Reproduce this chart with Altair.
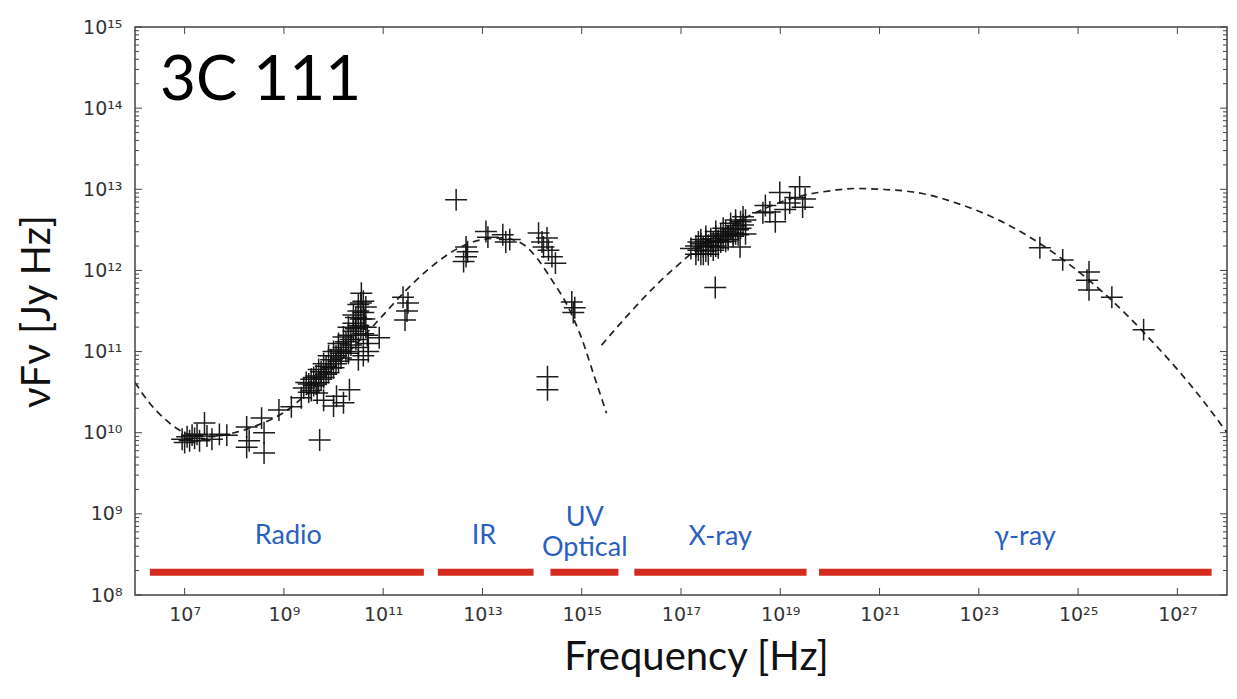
import altair as alt
import pandas as pd

# ---------------- data (log10 values) ----------------
# measured SED points: log10(frequency / Hz), log10(nuFnu / Jy Hz)
pts_lx = [
    # radio, low-frequency cluster
    6.95, 7.0, 7.05, 7.1, 7.15, 7.2, 7.25, 7.3, 7.4, 7.45, 7.55, 7.7, 7.85,
    # radio, rising part
    8.25, 8.25, 8.3, 8.55, 8.6, 8.6, 8.9, 9.15, 9.35, 9.72,
    # radio, dense block
    9.4, 9.45, 9.5, 9.55, 9.6, 9.65, 9.7, 9.75, 9.8, 9.85, 9.9, 9.95, 10.0, 10.05,
    10.1, 10.1, 10.15, 10.2, 10.25, 10.3, 10.3, 10.35, 10.4, 10.45, 10.5, 10.5,
    10.55, 10.6, 10.6, 10.65, 10.55, 10.5, 10.45, 10.65, 10.7, 10.56, 10.4,
    9.5, 9.55, 9.6, 9.65, 9.7, 9.75, 9.8, 9.85, 9.9, 9.95, 10.0, 10.05, 10.1, 10.15,
    10.2, 10.25, 10.3, 10.35, 10.4, 10.45, 10.5, 10.55, 10.6, 10.62, 10.68, 10.7, 10.6, 10.5,
    9.67, 9.8, 10.06, 10.2, 10.32, 10.0,
    10.92, 11.4, 11.5, 11.44, 11.48,
    # infrared
    12.47, 12.67, 12.7, 12.67, 12.62, 13.07, 13.11, 13.41, 13.47, 13.55,
    # optical / UV
    14.13, 14.2, 14.23, 14.3, 14.33, 14.4, 14.47, 14.8, 14.86, 14.83, 14.31, 14.31,
    # X-ray
    17.2, 17.3, 17.35, 17.4, 17.45, 17.5, 17.55, 17.6, 17.65, 17.7, 17.75, 17.8,
    17.85, 17.9, 17.95, 18.0, 18.05, 18.1, 18.15, 18.2, 18.25, 17.5, 17.7, 17.9,
    18.1, 17.4,
    17.3, 17.4, 17.5, 17.6, 17.7, 17.8, 17.85, 17.95, 18.0, 18.05, 18.1, 18.15,
    18.2, 17.55, 17.65, 17.75, 18.25, 17.35, 17.45, 18.3,
    17.69, 18.19, 18.3,
    18.65, 18.79, 18.9, 18.99, 19.19, 19.39, 19.45, 19.3, 19.1, 18.7, 19.5,
    # gamma-ray
    24.23, 24.69, 25.18, 25.22, 25.22, 25.68, 26.32,
]
pts_ly = [
    9.92, 9.88, 9.95, 9.9, 9.97, 9.93, 9.98, 9.9, 10.12, 9.96, 9.92, 9.98, 9.97,
    10.07, 9.82, 9.9, 10.18, 10.0, 9.75, 10.28, 10.32, 10.43, 9.91,
    10.55, 10.62, 10.5, 10.66, 10.58, 10.7, 10.62, 10.75, 10.68, 10.82, 10.74, 10.9, 10.8, 10.95,
    10.88, 11.02, 10.92, 11.05, 11.12, 10.98, 11.2, 11.08, 11.25, 11.15, 11.32, 11.05,
    11.4, 11.48, 11.22, 11.55, 11.6, 11.5, 11.42, 11.3, 11.1, 11.72, 11.35,
    10.6, 10.52, 10.68, 10.6, 10.78, 10.66, 10.85, 10.72, 10.95, 10.8, 11.0, 10.85, 11.1, 10.98,
    11.18, 11.0, 11.3, 11.15, 11.45, 11.28, 11.58, 11.3, 11.62, 11.4, 11.2, 11.0, 10.95, 10.9,
    10.49, 10.4, 10.45, 10.37, 10.53, 10.33,
    11.17, 11.67, 11.6, 11.39, 11.5,
    12.87, 12.29, 12.23, 12.17, 12.11, 12.48, 12.41, 12.44, 12.35, 12.38,
    12.46, 12.35, 12.29, 12.4, 12.25, 12.17, 12.09, 11.61, 11.54, 11.48, 10.69, 10.53,
    12.27, 12.3, 12.25, 12.33, 12.29, 12.36, 12.31, 12.39, 12.34, 12.42, 12.37, 12.45,
    12.4, 12.48, 12.43, 12.51, 12.46, 12.55, 12.5, 12.6, 12.66, 12.24, 12.3, 12.36,
    12.45, 12.2,
    12.2, 12.38, 12.42, 12.3, 12.48, 12.35, 12.52, 12.38, 12.58, 12.42, 12.62, 12.44,
    12.52, 12.2, 12.25, 12.28, 12.56, 12.35, 12.2, 12.62,
    11.79, 12.29, 12.45,
    12.71, 12.72, 12.6, 12.96, 12.83, 13.03, 12.78, 12.9, 12.75, 12.8, 12.88,
    12.28, 12.13, 11.88, 11.98, 11.76, 11.67, 11.27,
]

# dashed model curves (synchrotron and inverse-Compton components)
sync_lx = [6.0, 6.3, 6.6, 6.9, 7.2, 7.5, 8.0, 8.5, 9.0, 9.5, 10.0, 10.5, 11.0,
           11.5, 12.0, 12.5, 13.0, 13.4, 13.8, 14.1, 14.4, 14.7, 15.0, 15.25, 15.5]
sync_ly = [10.62, 10.36, 10.17, 10.03, 9.96, 9.95, 10.0, 10.1, 10.25, 10.5, 10.8, 11.12, 11.45,
           11.78, 12.06, 12.27, 12.38, 12.4, 12.33, 12.15, 11.88, 11.58, 11.16, 10.7, 10.24]
ic_lx = [15.4, 15.9, 16.5, 17.0, 17.5, 18.0, 18.5, 19.0, 19.5, 20.0, 20.5, 21.0, 21.5,
         22.0, 22.5, 23.0, 23.5, 24.0, 24.5, 25.0, 25.5, 26.0, 26.5, 27.0, 27.5, 28.0]
ic_ly = [11.08, 11.43, 11.82, 12.1, 12.35, 12.55, 12.71, 12.84, 12.93, 12.98, 13.01, 13.0, 12.98,
         12.93, 12.84, 12.73, 12.59, 12.42, 12.22, 11.99, 11.73, 11.44, 11.12, 10.78, 10.41, 10.0]

# spectral bands (red bars and blue labels)
band_names = ["Radio", "IR", "UV\nOptical", "X-ray", "γ-ray"]
band_lo = [6.3, 12.1, 14.37, 16.06, 19.78]
band_hi = [11.82, 14.03, 15.74, 19.53, 27.69]
band_label_lx = [9.09, 13.03, 15.06, 17.79, 23.93]
band_label_ly = [8.73, 8.73, 8.95, 8.72, 8.72]
band_bar_ly = 8.28

x_tick_exp = [7, 9, 11, 13, 15, 17, 19, 21, 23, 25, 27]
y_tick_exp = [8, 9, 10, 11, 12, 13, 14, 15]
y_minor = [2, 3, 4, 5, 6, 7, 8, 9]

title_text = "3C 111"

# ---------------- tables ----------------
pts = pd.DataFrame({"nu": [10 ** v for v in pts_lx], "flux": [10 ** v for v in pts_ly]})
curves = pd.concat([
    pd.DataFrame({"nu": [10 ** v for v in sync_lx], "flux": [10 ** v for v in sync_ly], "seg": "sync"}),
    pd.DataFrame({"nu": [10 ** v for v in ic_lx], "flux": [10 ** v for v in ic_ly], "seg": "ic"}),
])
bars = pd.DataFrame({"nu": [10 ** v for v in band_lo], "nu2": [10 ** v for v in band_hi],
                     "flux": [10 ** band_bar_ly] * len(band_lo)})
labels = pd.DataFrame({"nu": [10 ** v for v in band_label_lx],
                       "flux": [10 ** v for v in band_label_ly], "label": band_names})
xticks = pd.DataFrame({"nu": [10.0 ** e for e in x_tick_exp]})
yticks = pd.DataFrame({"flux": [10.0 ** e for e in y_tick_exp]})
yminor = pd.DataFrame({"flux": [m * 10.0 ** e for e in y_tick_exp[:-1] for m in y_minor]})
title_df = pd.DataFrame({"t": [title_text]})

W, H = 1092, 568
FONT = "Lato, 'Open Sans', sans-serif"

E = "round(log(datum.value)/LN10)"
S = "['⁰','¹','²','³','⁴','⁵','⁶','⁷','⁸','⁹']"
sup_expr = f"'10' + ({E} >= 10 ? {S}[floor({E}/10)] : '') + {S}[{E} % 10]"

xscale = alt.Scale(type="log", domain=[1e6, 1e28], nice=False, zero=False)
yscale = alt.Scale(type="log", domain=[1e8, 1e15], nice=False, zero=False)

xaxis = alt.Axis(values=[10.0 ** e for e in x_tick_exp], labelExpr=sup_expr, ticks=False,
                 domain=False, grid=False, labelPadding=10, labelFont="DejaVu Sans",
                 labelFontSize=19, labelColor="#333", title="Frequency [Hz]",
                 titleFont=FONT, titleFontSize=40, titleFontWeight="normal",
                 titleColor="#111", titlePadding=13, titleX=W / 2 + 15)
yaxis = alt.Axis(values=[10.0 ** e for e in y_tick_exp], labelExpr=sup_expr, ticks=False,
                 domain=False, grid=False, labelPadding=13, labelFont="DejaVu Sans",
                 labelFontSize=19, labelColor="#333", title="νFν [Jy Hz]",
                 titleFont=FONT, titleFontSize=40, titleFontWeight="normal",
                 titleColor="#111", titlePadding=25)

X = alt.X("nu:Q", scale=xscale, axis=xaxis)
Y = alt.Y("flux:Q", scale=yscale, axis=yaxis)

points = alt.Chart(pts).mark_point(
    shape="M-1,0L1,0M0,-1L0,1", size=480, filled=False, stroke="#111",
    strokeWidth=1.5, opacity=0.95, clip=True
).encode(x=X, y=Y)

lines = alt.Chart(curves).mark_line(
    stroke="#222", strokeWidth=1.7, strokeDash=[7, 5], clip=True, interpolate="monotone"
).encode(x=X, y=Y, detail="seg:N")

redbars = alt.Chart(bars).mark_rule(
    color="#d52b1e", strokeWidth=7, strokeCap="butt"
).encode(x=X, x2="nu2:Q", y=Y)

bandtext = alt.Chart(labels).mark_text(
    font=FONT, fontSize=27, color="#2b5fbf", lineBreak="\n", lineHeight=30,
    align="center", baseline="middle"
).encode(x=X, y=Y, text="label:N")

titlemark = alt.Chart(title_df).mark_text(
    font=FONT, fontSize=62, color="black", align="left", baseline="alphabetic"
).encode(x=alt.value(25), y=alt.value(73), text="t:N")

tick_color = "#444"
xt_bottom = alt.Chart(xticks).mark_rule(color=tick_color, strokeWidth=1).encode(
    x=X, y=alt.value(H), y2=alt.value(H - 7))
xt_top = alt.Chart(xticks).mark_rule(color=tick_color, strokeWidth=1).encode(
    x=X, y=alt.value(0), y2=alt.value(7))
yt_left = alt.Chart(yticks).mark_rule(color=tick_color, strokeWidth=1).encode(
    y=Y, x=alt.value(0), x2=alt.value(7))
yt_right = alt.Chart(yticks).mark_rule(color=tick_color, strokeWidth=1).encode(
    y=Y, x=alt.value(W), x2=alt.value(W - 7))
ym_left = alt.Chart(yminor).mark_rule(color=tick_color, strokeWidth=1).encode(
    y=Y, x=alt.value(0), x2=alt.value(4))
ym_right = alt.Chart(yminor).mark_rule(color=tick_color, strokeWidth=1).encode(
    y=Y, x=alt.value(W), x2=alt.value(W - 4))

chart = alt.layer(
    lines, points, redbars, bandtext, titlemark,
    xt_bottom, xt_top, yt_left, yt_right, ym_left, ym_right
).properties(
    width=W, height=H,
    autosize=alt.AutoSizeParams(type="none"),
    padding={"left": 127, "top": 19, "right": 2, "bottom": 96},
    background="white",
).configure_view(stroke="#444", strokeWidth=1.5, fill="white")

chart.save("out.html", embed_options={"renderer": "svg", "actions": False})
